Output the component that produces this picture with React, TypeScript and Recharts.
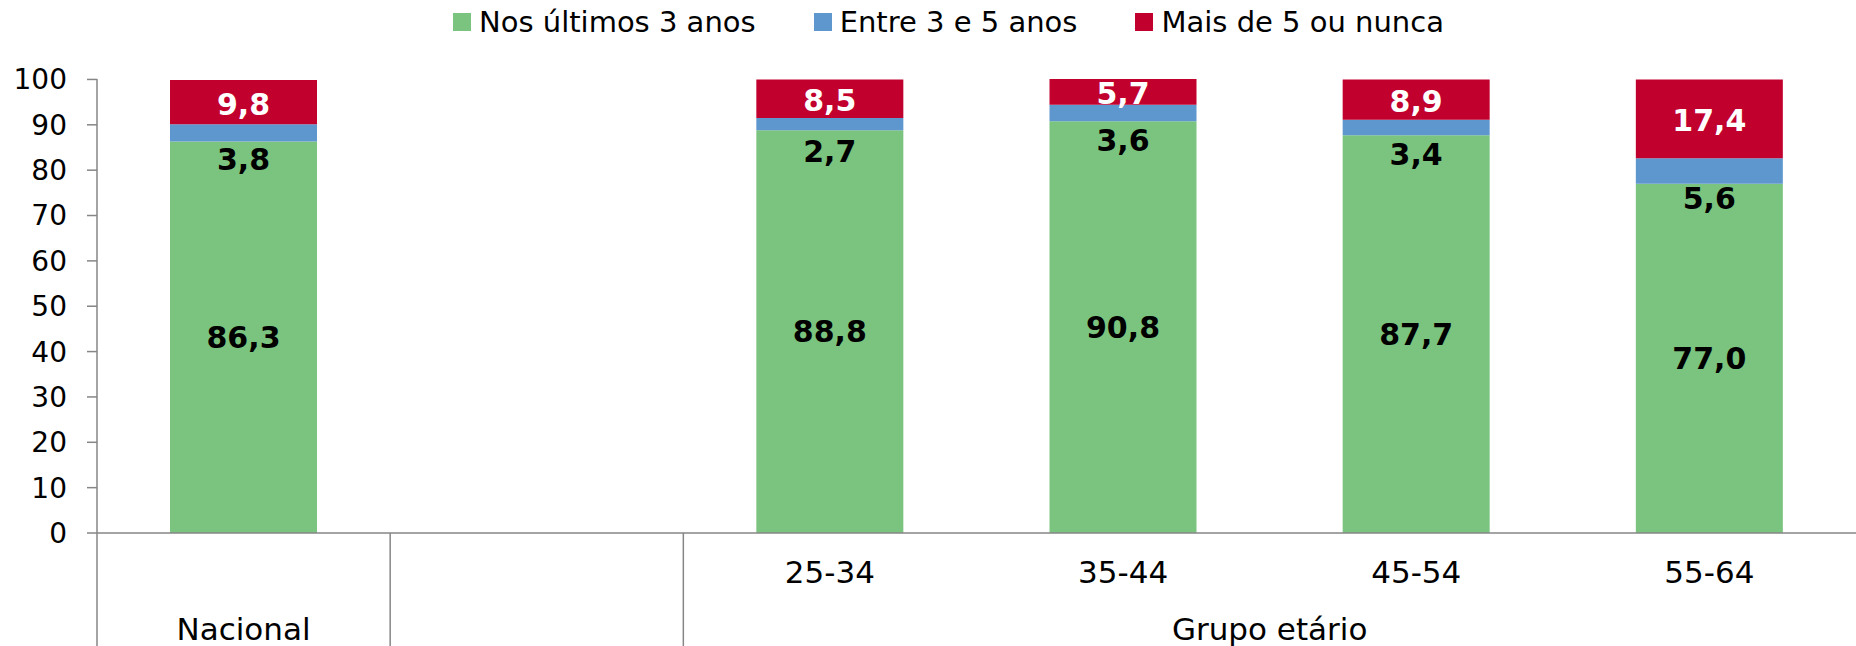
import { BarChart, Bar, XAxis, YAxis, LabelList } from 'recharts';

const categories = ['Nacional', ' ', '25-34', '35-44', '45-54', '55-64'];
const recent = [86.3, null, 88.8, 90.8, 87.7, 77.0];
const between = [3.8, null, 2.7, 3.6, 3.4, 5.6];
const older = [9.8, null, 8.5, 5.7, 8.9, 17.4];
const yTicks = [0, 10, 20, 30, 40, 50, 60, 70, 80, 90, 100];
const seriesNames = ['Nos últimos 3 anos', 'Entre 3 e 5 anos', 'Mais de 5 ou nunca'];
const groupLabel = 'Grupo etário';

const COLORS = ['#7BC47F', '#5E96CE', '#C2002E'];
const FONT = '"DejaVu Sans", Verdana, sans-serif';
const W = 1856;
const H = 646;
const Y_AXIS_W = 97;
const CAT_W = (W - Y_AXIS_W) / categories.length;

const data = categories.map((name, i) => ({
  name,
  recent: recent[i],
  between: between[i],
  older: older[i],
}));

const fmt = (v: any) => (v == null ? '' : Number(v).toFixed(1).replace('.', ','));

const makeLabel = (color: string, dy: number) => (props: any) => {
  const { x, y, width, height, value } = props;
  if (value == null) return null;
  return (
    <text
      x={x + width / 2}
      y={y + height / 2 + dy}
      textAnchor="middle"
      dominantBaseline="central"
      fill={color}
      fontWeight="bold"
      fontSize={30}
    >
      {fmt(value)}
    </text>
  );
};

const AxisTick = (props: any) => {
  const { x, y, index, payload } = props;
  const lines: number[] = [];
  if (index === 0) lines.push(x - CAT_W / 2, x + CAT_W / 2);
  if (index === 1) lines.push(x + CAT_W / 2);
  return (
    <g>
      {lines.map((lx, i) => (
        <line key={i} x1={lx} x2={lx} y1={y} y2={y + 113} stroke="#868686" strokeWidth={1.5} />
      ))}
      {index === 0 && (
        <text x={x} y={y + 96} textAnchor="middle" dominantBaseline="central" fontSize={31} fill="#000">
          {payload.value}
        </text>
      )}
      {index >= 2 && (
        <text x={x} y={y + 39} textAnchor="middle" dominantBaseline="central" fontSize={31} fill="#000">
          {payload.value}
        </text>
      )}
      {index === 3 && (
        <text x={x + CAT_W / 2} y={y + 96} textAnchor="middle" dominantBaseline="central" fontSize={31} fill="#000">
          {groupLabel}
        </text>
      )}
    </g>
  );
};

export default function App() {
  return (
    <div style={{ position: 'relative', width: W, height: H, fontFamily: FONT, background: '#fff' }}>
      <style>{'body{margin:0}'}</style>
      <div
        style={{
          position: 'absolute',
          top: 5,
          left: 453,
          display: 'flex',
          alignItems: 'center',
          fontSize: 29,
          color: '#000',
          whiteSpace: 'nowrap',
        }}
      >
        {seriesNames.map((n, i) => (
          <div key={n} style={{ display: 'flex', alignItems: 'center', marginRight: 58 }}>
            <span style={{ width: 18, height: 18, background: COLORS[i], marginRight: 8, display: 'inline-block' }} />
            <span>{n}</span>
          </div>
        ))}
      </div>
      <div style={{ position: 'absolute', top: 0, left: 0 }}>
        <BarChart width={W} height={H} data={data} margin={{ top: 79, right: 0, left: 0, bottom: 0 }} barSize={147}>
          <XAxis
            dataKey="name"
            height={113}
            interval={0}
            tickLine={false}
            tickSize={0}
            tickMargin={0}
            stroke="#868686"
            strokeWidth={1.5}
            tick={<AxisTick />}
          />
          <YAxis
            width={Y_AXIS_W}
            domain={[0, 100]}
            ticks={yTicks}
            interval={0}
            tickSize={10}
            tickMargin={20}
            stroke="#868686"
            strokeWidth={1.5}
            tick={{ fill: '#000', fontSize: 28 }}
          />
          <Bar dataKey="recent" stackId="a" fill={COLORS[0]} isAnimationActive={false}>
            <LabelList dataKey="recent" content={makeLabel('#000', 0)} />
          </Bar>
          <Bar dataKey="between" stackId="a" fill={COLORS[1]} isAnimationActive={false}>
            <LabelList dataKey="between" content={makeLabel('#000', 27)} />
          </Bar>
          <Bar dataKey="older" stackId="a" fill={COLORS[2]} isAnimationActive={false}>
            <LabelList dataKey="older" content={makeLabel('#fff', 2)} />
          </Bar>
        </BarChart>
      </div>
    </div>
  );
}
